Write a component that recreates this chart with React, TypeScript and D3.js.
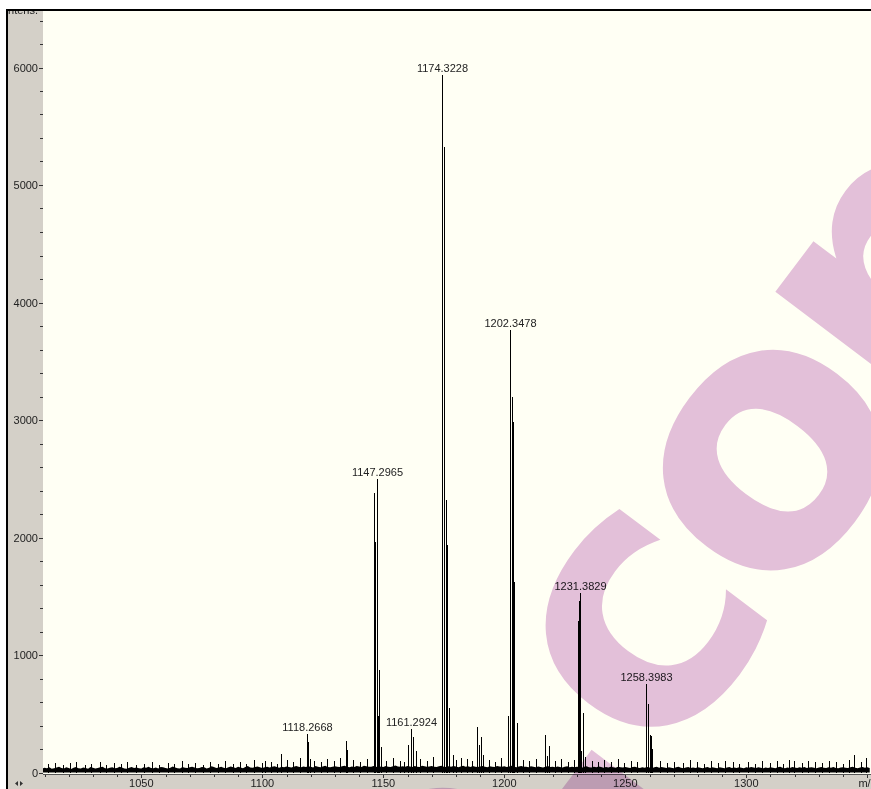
import React from "react";
import * as d3 from "d3";

// mass spectrum: m/z vs intensity
const noiseStart = 1009; // m/z of first baseline sample, 1 Da step
const noise = [
  34, 40, 37, 45, 31, 36, 42, 48, 39, 33, 44, 38, 30, 41, 47, 36, 35, 43, 39, 32,
  46, 40, 34, 38, 44, 50, 37, 33, 41, 45, 36, 39, 48, 42, 35, 31, 40, 46, 38, 43,
  37, 34, 45, 41, 49, 38, 36, 42, 33, 47, 44, 39, 35, 40, 51, 43, 37, 34, 46, 41,
  38, 45, 50, 42, 36, 39, 47, 44, 35, 41, 53, 46, 38, 43, 49, 40, 37, 45, 52, 44,
  39, 48, 42, 36, 46, 55, 43, 40, 47, 51, 44, 38, 45, 50, 42, 48, 54, 46, 41, 49,
  45, 52, 47, 42, 50, 56, 48, 44, 51, 46, 53, 49, 43, 55, 50, 45, 52, 58, 47, 44,
  50, 54, 48, 46, 53, 57, 49, 45, 52, 47, 55, 51, 46, 58, 53, 48, 50, 56, 49, 45,
  52, 47, 55, 50, 46, 54, 59, 51, 48, 53, 49, 56, 52, 47, 55, 50, 46, 57, 53, 48,
  51, 55, 49, 46, 53, 58, 50, 47, 54, 48, 56, 52, 45, 51, 57, 49, 53, 47, 55, 50,
  46, 52, 56, 49, 45, 53, 50, 47, 55, 51, 48, 54, 46, 52, 57, 49, 44, 51, 55, 48,
  50, 45, 53, 48, 44, 52, 47, 43, 50, 55, 46, 49, 44, 51, 47, 42, 50, 53, 45, 48,
  44, 50, 46, 41, 49, 53, 45, 42, 48, 44, 51, 46, 40, 47, 43, 49, 45, 41, 48, 44,
  42, 47, 43, 39, 46, 50, 42, 38, 45, 41, 47, 43, 37, 44, 48, 40, 46, 42, 38, 45,
  41, 37, 44, 48, 40, 36, 43, 47, 39, 42, 38, 45, 41, 36, 43, 47, 39, 44, 40, 37,
  44, 40, 36, 42, 46, 39, 43, 38, 45, 41, 37, 44, 40, 47, 42, 38, 45, 41, 36, 43,
  39, 45, 41, 37, 44, 48, 40, 36, 43, 39, 46, 42, 38, 44, 41, 47, 39, 43, 45, 40,
  37, 43, 46, 40, 38, 44, 41, 47, 39, 36, 43, 45, 40, 38, 44, 48, 41, 37, 42, 46,
  40, 44, 38,
];

// small baseline spikes [m/z, intensity]
const noiseSpikes: [number, number][] = [
  [1011.5, 70], [1014.2, 85], [1017.8, 62], [1020.4, 78], [1023.1, 90], [1026.7, 66], [1029.3, 74],
  [1032.8, 88], [1035.5, 64], [1038.9, 80], [1041.6, 70], [1044.2, 92], [1047.7, 68], [1051.3, 76],
  [1054.6, 86], [1057.2, 64], [1060.9, 82], [1063.4, 70], [1066.8, 95], [1069.5, 72], [1072.1, 84],
  [1075.6, 66], [1078.3, 90], [1081.7, 76], [1084.4, 100], [1087.9, 70], [1090.6, 88], [1093.2, 74],
  [1096.5, 104], [1099.8, 80], [1103.4, 92], [1105.9, 76], [1110.3, 110], [1112.8, 86], [1115.6, 120],
  [1121.4, 98], [1124.1, 88], [1126.9, 112], [1129.5, 94], [1137.6, 106], [1140.3, 90], [1143.1, 118],
  [1151.2, 96], [1154.0, 124], [1156.7, 100], [1158.4, 88], [1165.3, 112], [1167.9, 96], [1170.6, 130],
  [1180.1, 104], [1184.6, 118], [1186.8, 96], [1193.5, 110], [1196.2, 92], [1198.7, 126], [1207.6, 108],
  [1210.4, 94], [1213.1, 116], [1220.9, 98], [1223.6, 112], [1226.2, 90], [1228.8, 104], [1236.1, 96],
  [1238.7, 86], [1241.4, 108], [1244.0, 90], [1246.8, 116], [1249.5, 84], [1252.2, 98], [1255.0, 88],
  [1264.4, 96], [1267.1, 82], [1270.3, 92], [1273.8, 78], [1279.5, 88], [1282.6, 74], [1285.3, 96],
  [1288.1, 80], [1294.4, 86], [1297.0, 72], [1300.5, 90], [1303.7, 76], [1306.4, 94], [1309.8, 80],
  [1312.5, 98], [1315.3, 74], [1317.6, 104], [1322.9, 84], [1325.5, 96], [1331.1, 80], [1334.2, 102],
  [1337.0, 86], [1339.8, 76], [1342.3, 110], [1347.2, 90],
];

// [m/z, intensity]
const peaks: [number, number][] = [
  [1101.1, 98], [1107.9, 157],
  [1118.27, 328], [1119.0, 262], [1119.6, 115],
  [1132.2, 123], [1134.4, 271], [1135.0, 192],
  [1146.2, 2380], [1146.4, 1960], [1147.2965, 2500], [1148.0, 485], [1148.4, 876], [1149.2, 220],
  [1160.3, 232], [1161.2924, 366], [1162.4, 298], [1163.5, 181],
  [1174.3228, 5940], [1175.0, 5320], [1175.1, 1543], [1176.1, 2317], [1176.5, 1940], [1177.2, 553], [1178.6, 145], [1182.2, 125],
  [1188.6, 383], [1189.6, 238], [1190.4, 306], [1191.2, 153],
  [1201.7, 483], [1202.3478, 3770], [1203.0, 3200], [1203.4, 2980], [1204.2, 1620], [1205.3, 425],
  [1216.8, 315], [1217.5, 139], [1218.6, 222],
  [1230.6, 1292], [1231.0, 1460], [1231.3829, 1525], [1231.8, 181], [1232.6, 505], [1233.5, 136],
  [1258.3983, 749], [1259.3, 579], [1260.1, 315], [1260.5, 310], [1261.1, 196],
  [1276.7, 106], [1291.2, 98], [1319.8, 98], [1328.4, 90], [1344.6, 149], [1349.6, 125],
];

const labelMz = [1118.2668, 1147.2965, 1161.2924, 1174.3228, 1202.3478, 1231.3829, 1258.3983];
const labelInt = [328, 2500, 366, 5940, 3770, 1525, 749];

const yTicks = [0, 1000, 2000, 3000, 4000, 5000, 6000];
const xTicks = [1050, 1100, 1150, 1200, 1250, 1300];

const watermark = "e.com";

const W = 871;
const H = 789;
const plot = { left: 43, top: 11, right: 871, bottom: 774 };
const font = "'Liberation Sans', Arial, sans-serif";

export default function App() {
  const x = d3.scaleLinear().domain([1050, 1300]).range([141.3, 746.3]);
  const y = d3.scaleLinear().domain([0, 6000]).range([772.5, 67.5]);

  const noiseArea = d3
    .area<number>()
    .x((d, i) => x(noiseStart + i))
    .y0(y(0))
    .y1((d) => y(d))(noise);

  const px = (v: number) => Math.round(x(v)) + 0.5;

  const minorY = d3.range(0, 6600, 200);
  const minorX = d3.range(1010, 1360, 10);
  const sticks = [...noiseSpikes, ...peaks];

  return (
    <div style={{ position: "absolute", left: 0, top: 0 }}>
      <svg width={W} height={H} style={{ display: "block", background: "#fff" }}>
        <defs>
          <clipPath id="plotClip">
            <rect x={plot.left} y={plot.top} width={plot.right - plot.left} height={plot.bottom - plot.top} />
          </clipPath>
          <clipPath id="frameClip">
            <rect x={8} y={11} width={W - 8} height={H - 11} />
          </clipPath>
        </defs>

        {/* panel + plot background */}
        <rect x={8} y={11} width={W - 8} height={H - 11} fill="#d4d0c8" />
        <rect x={plot.left} y={plot.top} width={plot.right - plot.left} height={plot.bottom - plot.top} fill="#fffff4" />

        {/* spectrum */}
        <g clipPath="url(#plotClip)">
          <path d={noiseArea ?? ""} fill="#000" />
          {sticks.map(([mz, v], i) => (
            <line key={i} x1={px(mz)} x2={px(mz)} y1={y(0)} y2={y(v)} stroke="#000" strokeWidth={1} shapeRendering="crispEdges" />
          ))}
        </g>

        {/* peak labels */}
        <g fontFamily={font} fontSize={11} fill="#222" textAnchor="middle">
          {labelMz.map((mz, i) => (
            <text key={i} x={px(mz)} y={y(labelInt[i]) - 3}>
              {mz.toFixed(4)}
            </text>
          ))}
        </g>

        {/* y axis */}
        <g stroke="#333" shapeRendering="crispEdges">
          {minorY.map((t) => (
            <line key={t} x1={t % 1000 === 0 ? 39 : 40} x2={43} y1={Math.round(y(t)) + 0.5} y2={Math.round(y(t)) + 0.5} />
          ))}
        </g>
        <g fontFamily={font} fontSize={11} fill="#222" textAnchor="end">
          {yTicks.map((t) => (
            <text key={t} x={38} y={y(t) + 4}>
              {t}
            </text>
          ))}
        </g>

        {/* x axis */}
        <line x1={plot.left} x2={W} y1={774.5} y2={774.5} stroke="#555" shapeRendering="crispEdges" />
        <g stroke="#333" shapeRendering="crispEdges">
          {minorX.map((t) => (
            <line key={t} x1={px(t)} x2={px(t)} y1={775} y2={t % 50 === 0 ? 778 : 777} />
          ))}
        </g>
        <g fontFamily={font} fontSize={11} fill="#222" textAnchor="middle">
          {xTicks.map((t) => (
            <text key={t} x={x(t)} y={787}>
              {t}
            </text>
          ))}
          <text x={x(1350)} y={787}>m/z</text>
        </g>

        {/* watermark */}
        <g clipPath="url(#frameClip)" style={{ mixBlendMode: "multiply" }}>
          <text
            x={449}
            y={1052}
            transform="rotate(-53 449 1052)"
            fontFamily="'DejaVu Sans', sans-serif"
            fontWeight="bold"
            fontSize={360}
            letterSpacing={-17}
            fill="#e3c0e3"
          >
            {watermark}
          </text>
        </g>

        {/* frame */}
        <rect x={6} y={9} width={W - 6} height={2} fill="#000" />
        <rect x={6} y={9} width={2} height={H - 9} fill="#000" />
        <g clipPath="url(#frameClip)">
          <text x={38} y={14} fontFamily={font} fontSize={11} fill="#222" textAnchor="end">
            Intens.
          </text>
        </g>
        <path d="M15,783.5 L18,781 L18,786 Z M23,783.5 L20,781 L20,786 Z" fill="#333" />
      </svg>
    </div>
  );
}
